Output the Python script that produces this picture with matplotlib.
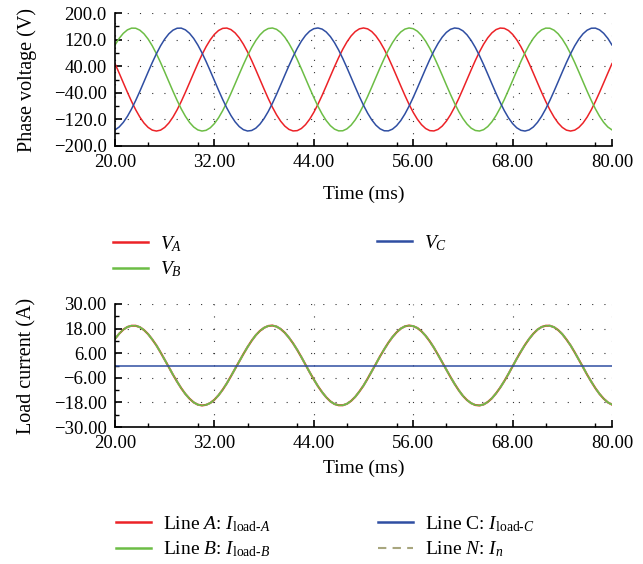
import matplotlib
matplotlib.use('Agg')
import matplotlib.pyplot as plt
from matplotlib.lines import Line2D
from matplotlib.ticker import MultipleLocator

plt.rcParams['font.family'] = 'Liberation Serif'
plt.rcParams['mathtext.fontset'] = 'custom'
plt.rcParams['mathtext.rm'] = 'Liberation Serif'
plt.rcParams['mathtext.it'] = 'Liberation Serif:italic'

# sample times (ms), every 0.5 ms from 20 to 80
time_ms = [x / 2 for x in range(40, 161)]

# phase voltages (V)
v_a = [47.9, 19.4, -9.7, -38.5, -66.0, -91.1, -113.0, -130.9, -144.1, -152.3,
       -155.0, -152.3, -144.1, -130.9, -113.0, -91.1, -66.0, -38.5, -9.7, 19.4,
       47.9, 74.7, 98.8, 119.4, 135.8, 147.4, 153.8, 154.7, 150.1, 140.2,
       125.4, 106.1, 83.1, 57.1, 29.0, 0.0, -29.0, -57.1, -83.1, -106.1,
       -125.4, -140.2, -150.1, -154.7, -153.8, -147.4, -135.8, -119.4, -98.8, -74.7,
       -47.9, -19.4, 9.7, 38.5, 66.0, 91.1, 113.0, 130.9, 144.1, 152.3,
       155.0, 152.3, 144.1, 130.9, 113.0, 91.1, 66.0, 38.5, 9.7, -19.4,
       -47.9, -74.7, -98.8, -119.4, -135.8, -147.4, -153.8, -154.7, -150.1, -140.2,
       -125.4, -106.1, -83.1, -57.1, -29.0, 0.0, 29.0, 57.1, 83.1, 106.1,
       125.4, 140.2, 150.1, 154.7, 153.8, 147.4, 135.8, 119.4, 98.8, 74.7,
       47.9, 19.4, -9.7, -38.5, -66.0, -91.1, -113.0, -130.9, -144.1, -152.3,
       -155.0, -152.3, -144.1, -130.9, -113.0, -91.1, -66.0, -38.5, -9.7, 19.4,
       47.9]
v_b = [103.7, 123.5, 138.8, 149.3, 154.5, 154.2, 148.4, 137.4, 121.5, 101.3,
       77.5, 51.0, 22.6, -6.5, -35.4, -63.0, -88.5, -110.7, -129.1, -142.9,
       -151.6, -155.0, -152.8, -145.3, -132.6, -115.2, -93.7, -68.9, -41.7, -13.0,
       16.2, 44.8, 71.8, 96.3, 117.3, 134.2, 146.4, 153.3, 154.9, 150.9,
       141.6, 127.3, 108.4, 85.8, 60.1, 32.2, 3.2, -25.8, -54.0, -80.3,
       -103.7, -123.5, -138.8, -149.3, -154.5, -154.2, -148.4, -137.4, -121.5, -101.3,
       -77.5, -51.0, -22.6, 6.5, 35.4, 63.0, 88.5, 110.7, 129.1, 142.9,
       151.6, 155.0, 152.8, 145.3, 132.6, 115.2, 93.7, 68.9, 41.7, 13.0,
       -16.2, -44.8, -71.8, -96.3, -117.3, -134.2, -146.4, -153.3, -154.9, -150.9,
       -141.6, -127.3, -108.4, -85.8, -60.1, -32.2, -3.2, 25.8, 54.0, 80.3,
       103.7, 123.5, 138.8, 149.3, 154.5, 154.2, 148.4, 137.4, 121.5, 101.3,
       77.5, 51.0, 22.6, -6.5, -35.4, -63.0, -88.5, -110.7, -129.1, -142.9,
       -151.6]
v_c = [-151.6, -142.9, -129.1, -110.7, -88.5, -63.0, -35.4, -6.5, 22.6, 51.0,
       77.5, 101.3, 121.5, 137.4, 148.4, 154.2, 154.5, 149.3, 138.8, 123.5,
       103.7, 80.3, 54.0, 25.8, -3.2, -32.2, -60.1, -85.8, -108.4, -127.3,
       -141.6, -150.9, -154.9, -153.3, -146.4, -134.2, -117.3, -96.3, -71.8, -44.8,
       -16.2, 13.0, 41.7, 68.9, 93.7, 115.2, 132.6, 145.3, 152.8, 155.0,
       151.6, 142.9, 129.1, 110.7, 88.5, 63.0, 35.4, 6.5, -22.6, -51.0,
       -77.5, -101.3, -121.5, -137.4, -148.4, -154.2, -154.5, -149.3, -138.8, -123.5,
       -103.7, -80.3, -54.0, -25.8, 3.2, 32.2, 60.1, 85.8, 108.4, 127.3,
       141.6, 150.9, 154.9, 153.3, 146.4, 134.2, 117.3, 96.3, 71.8, 44.8,
       16.2, -13.0, -41.7, -68.9, -93.7, -115.2, -132.6, -145.3, -152.8, -155.0,
       -151.6, -142.9, -129.1, -110.7, -88.5, -63.0, -35.4, -6.5, 22.6, 51.0,
       77.5, 101.3, 121.5, 137.4, 148.4, 154.2, 154.5, 149.3, 138.8, 123.5,
       103.7]

# load currents (A): the A, B and N traces lie on top of each other
i_load_a = [13.0, 15.5, 17.5, 18.8, 19.4, 19.4, 18.7, 17.3, 15.3, 12.7,
            9.8, 6.4, 2.8, -0.8, -4.5, -7.9, -11.1, -13.9, -16.2, -18.0,
            -19.1, -19.5, -19.2, -18.3, -16.7, -14.5, -11.8, -8.7, -5.2, -1.6,
            2.0, 5.6, 9.0, 12.1, 14.8, 16.9, 18.4, 19.3, 19.5, 19.0,
            17.8, 16.0, 13.6, 10.8, 7.6, 4.1, 0.4, -3.3, -6.8, -10.1,
            -13.0, -15.5, -17.5, -18.8, -19.4, -19.4, -18.7, -17.3, -15.3, -12.7,
            -9.8, -6.4, -2.8, 0.8, 4.5, 7.9, 11.1, 13.9, 16.2, 18.0,
            19.1, 19.5, 19.2, 18.3, 16.7, 14.5, 11.8, 8.7, 5.2, 1.6,
            -2.0, -5.6, -9.0, -12.1, -14.8, -16.9, -18.4, -19.3, -19.5, -19.0,
            -17.8, -16.0, -13.6, -10.8, -7.6, -4.1, -0.4, 3.3, 6.8, 10.1,
            13.0, 15.5, 17.5, 18.8, 19.4, 19.4, 18.7, 17.3, 15.3, 12.7,
            9.8, 6.4, 2.8, -0.8, -4.5, -7.9, -11.1, -13.9, -16.2, -18.0,
            -19.1]
i_load_b = list(i_load_a)
i_n = list(i_load_a)
i_load_c = [0.0] * len(time_ms)

x_ticks = [20, 32, 44, 56, 68, 80]
x_labels = ['20.00', '32.00', '44.00', '56.00', '68.00', '80.00']
v_ticks = [-200, -120, -40, 40, 120, 200]
v_labels = ['\u2212200.0', '\u2212120.0', '\u221240.00', '40.00', '120.0', '200.0']
i_ticks = [-30, -18, -6, 6, 18, 30]
i_labels = ['\u221230.00', '\u221218.00', '\u22126.00', '6.00', '18.00', '30.00']

RED = '#ec2227'
GREEN = '#6cbd45'
BLUE = '#2f4ea2'
OLIVE = '#a8a67e'

W, H = 643, 564
fig = plt.figure(figsize=(W / 100, H / 100), dpi=100)


def px_axes(left, top, right, bottom):
    return fig.add_axes([left / W, 1 - bottom / H, (right - left) / W, (bottom - top) / H])


def style_axes(ax, yticks, ylabels, ylim, minor_y, ylabel, xlabel_y):
    ax.set_xlim(20, 80)
    ax.set_ylim(*ylim)
    ax.set_xticks(x_ticks)
    ax.set_xticklabels(x_labels)
    ax.set_yticks(yticks)
    ax.set_yticklabels(ylabels)
    ax.xaxis.set_minor_locator(MultipleLocator(6))
    ax.yaxis.set_minor_locator(MultipleLocator(minor_y))
    for s in ['top', 'right']:
        ax.spines[s].set_visible(False)
    for s in ['left', 'bottom']:
        ax.spines[s].set_linewidth(1.2)
    ax.tick_params(which='major', direction='in', length=5, width=1.2,
                   labelsize=13.5, pad=6)
    ax.tick_params(which='minor', direction='in', length=3, width=1.0)
    ax.grid(True, which='major', color='#333333', linewidth=0.8,
            linestyle=(0, (1, 10)))
    ax.set_xlabel('Time (ms)', fontsize=14)
    ax.set_ylabel(ylabel, fontsize=14.5)
    ax.xaxis.set_label_coords(0.5, xlabel_y)
    ax.yaxis.set_label_coords(-0.157, 0.5)


ax1 = px_axes(115, 13, 612, 146)
ax1.plot(time_ms, v_a, color=RED, lw=1.1)
ax1.plot(time_ms, v_b, color=GREEN, lw=1.1)
ax1.plot(time_ms, v_c, color=BLUE, lw=1.1)
style_axes(ax1, v_ticks, v_labels, (-200, 200), 40, 'Phase voltage (V)', -0.30)

ax2 = px_axes(115, 304, 612, 427)
ax2.plot(time_ms, i_load_a, color=RED, lw=1.5)
ax2.plot(time_ms, i_n, color=OLIVE, lw=1.4, linestyle=(0, (4, 3)))
ax2.plot(time_ms, i_load_b, color=GREEN, lw=1.1)
ax2.plot(time_ms, i_load_c, color=BLUE, lw=1.1)
style_axes(ax2, i_ticks, i_labels, (-30, 30), 6, 'Load current (A)', -0.265)

leg_kw = dict(frameon=False, fontsize=14, handlelength=1.8, handletextpad=0.6,
              labelspacing=0.3, borderpad=0, borderaxespad=0, loc='center left')


def handle(color, ls='-'):
    if ls == '-':
        return Line2D([], [], color=color, lw=1.8)
    return Line2D([], [], color=color, lw=1.5, linestyle=(0, (4, 3)))


fig.legend([handle(RED), handle(GREEN)], [r'$V_A$', r'$V_B$'],
           bbox_to_anchor=(113 / W, 1 - 256.5 / H), **leg_kw)
fig.legend([handle(BLUE)], [r'$V_C$'],
           bbox_to_anchor=(377 / W, 1 - 243 / H), **leg_kw)
fig.legend([handle(RED), handle(GREEN)],
           [r'Line $A$: $I_{\mathrm{load}\text{-}A}$',
            r'Line $B$: $I_{\mathrm{load}\text{-}B}$'],
           bbox_to_anchor=(116 / W, 1 - 536.5 / H), **leg_kw)
fig.legend([handle(BLUE), handle(OLIVE, '--')],
           [r'Line C: $I_{\mathrm{load}\text{-}C}$',
            r'Line $N$: $I_n$'],
           bbox_to_anchor=(378 / W, 1 - 536.5 / H), **leg_kw)

fig.savefig('out.png', dpi=100)
